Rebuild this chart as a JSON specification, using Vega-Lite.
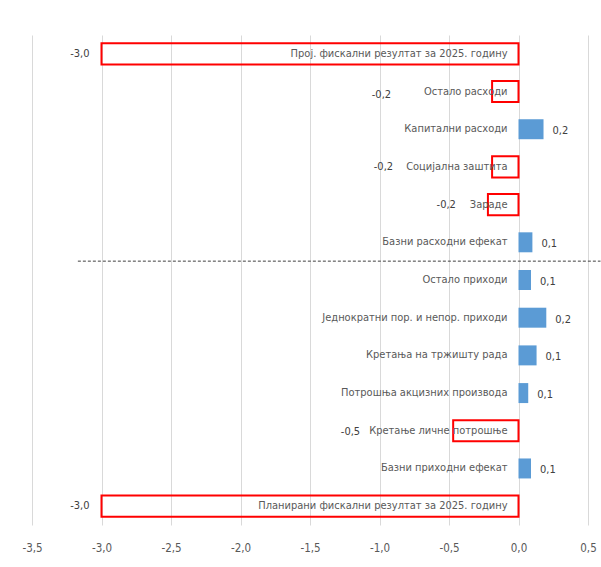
{
  "$schema": "https://vega.github.io/schema/vega-lite/v6.json",
  "width": 556,
  "height": 490,
  "autosize": {"type": "none"},
  "padding": {"left": 32, "top": 35, "right": 13, "bottom": 42},
  "background": "white",
  "config": {
    "view": {"stroke": null},
    "font": "DejaVu Sans Condensed, sans-serif",
    "locale": {"number": {"decimal": ",", "thousands": ".", "grouping": [3], "currency": ["", " €"], "minus": "-"}}
  },
  "data": {
    "values": [
      {"category": "Прој. фискални резултат за 2025. годину", "value": -3.0},
      {"category": "Остало расходи", "value": -0.19},
      {"category": "Капитални расходи", "value": 0.18},
      {"category": "Социјална заштита", "value": -0.19},
      {"category": "Зараде", "value": -0.22},
      {"category": "Базни расходни ефекат", "value": 0.1},
      {"category": "Остало приходи", "value": 0.09},
      {"category": "Једнократни пор. и непор. приходи", "value": 0.2},
      {"category": "Кретања на тржишту рада", "value": 0.13},
      {"category": "Потрошња акцизних производа", "value": 0.07},
      {"category": "Кретање личне потрошње", "value": -0.47},
      {"category": "Базни приходни ефекат", "value": 0.09},
      {"category": "Планирани фискални резултат за 2025. годину", "value": -3.0}
    ]
  },
  "encoding": {
    "y": {
      "field": "category",
      "type": "nominal",
      "sort": null,
      "axis": null,
      "scale": {
        "domain": ["Прој. фискални резултат за 2025. годину", "Остало расходи", "Капитални расходи", "Социјална заштита", "Зараде", "Базни расходни ефекат", "Остало приходи", "Једнократни пор. и непор. приходи", "Кретања на тржишту рада", "Потрошња акцизних производа", "Кретање личне потрошње", "Базни приходни ефекат", "Планирани фискални резултат за 2025. годину"],
        "paddingInner": 0,
        "paddingOuter": 0
      }
    }
  },
  "layer": [
    {
      "mark": {"type": "bar", "color": "#5B9BD5", "height": {"band": 0.53}},
      "transform": [{"filter": {"field": "value", "gt": 0}}],
      "encoding": {
        "x": {
          "field": "value",
          "type": "quantitative",
          "scale": {"domain": [-3.5, 0.5], "nice": false, "zero": false},
          "axis": {
            "title": null,
            "values": [-3.5, -3, -2.5, -2, -1.5, -1, -0.5, 0, 0.5],
            "format": ".1f",
            "grid": true,
            "gridColor": "#d9d9d9",
            "gridWidth": 1,
            "domain": false,
            "ticks": false,
            "labelFlush": false,
            "labelColor": "#595959",
            "labelFontSize": 11.5,
            "labelPadding": 17
          }
        }
      }
    },
    {
      "mark": {"type": "bar", "filled": false, "stroke": "#FF0000", "strokeWidth": 2, "height": {"band": 0.56}},
      "transform": [{"filter": {"field": "value", "lt": 0}}],
      "encoding": {"x": {"field": "value", "type": "quantitative"}}
    },
    {
      "mark": {"type": "rule", "strokeDash": [3, 2], "color": "#404040", "strokeWidth": 1},
      "transform": [{"filter": {"field": "category", "equal": "Базни расходни ефекат"}}],
      "encoding": {
        "y": {"field": "category", "type": "nominal", "bandPosition": 1},
        "x": {"datum": -3.17},
        "x2": {"datum": 0.59}
      }
    },
    {
      "mark": {"type": "text", "align": "right", "dx": -11, "fontSize": 11, "color": "#595959"},
      "encoding": {
        "x": {"datum": 0},
        "text": {"field": "category"}
      }
    },
    {
      "mark": {"type": "text", "align": "left", "dx": 9, "dy": 2, "fontSize": 11, "color": "#404040"},
      "transform": [{"filter": {"field": "value", "gt": 0}}],
      "encoding": {
        "x": {"field": "value", "type": "quantitative"},
        "text": {"field": "value", "format": ".1f"}
      }
    },
    {
      "mark": {"type": "text", "align": "right", "dx": -12, "fontSize": 11, "color": "#404040"},
      "transform": [{"filter": {"field": "value", "lt": -1}}],
      "encoding": {
        "x": {"field": "value", "type": "quantitative"},
        "text": {"field": "value", "format": ".1f"}
      }
    },
    {
      "mark": {"type": "text", "align": "right", "dx": -101, "dy": 3, "fontSize": 11, "color": "#404040"},
      "transform": [{"filter": {"field": "category", "equal": "Остало расходи"}}],
      "encoding": {
        "x": {"field": "value", "type": "quantitative"},
        "text": {"field": "value", "format": ".1f"}
      }
    },
    {
      "mark": {"type": "text", "align": "right", "dx": -99, "fontSize": 11, "color": "#404040"},
      "transform": [{"filter": {"field": "category", "equal": "Социјална заштита"}}],
      "encoding": {
        "x": {"field": "value", "type": "quantitative"},
        "text": {"field": "value", "format": ".1f"}
      }
    },
    {
      "mark": {"type": "text", "align": "right", "dx": -32, "fontSize": 11, "color": "#404040"},
      "transform": [{"filter": {"field": "category", "equal": "Зараде"}}],
      "encoding": {
        "x": {"field": "value", "type": "quantitative"},
        "text": {"field": "value", "format": ".1f"}
      }
    },
    {
      "mark": {"type": "text", "align": "right", "dx": -93, "dy": 1, "fontSize": 11, "color": "#404040"},
      "transform": [{"filter": {"field": "category", "equal": "Кретање личне потрошње"}}],
      "encoding": {
        "x": {"field": "value", "type": "quantitative"},
        "text": {"field": "value", "format": ".1f"}
      }
    }
  ]
}
